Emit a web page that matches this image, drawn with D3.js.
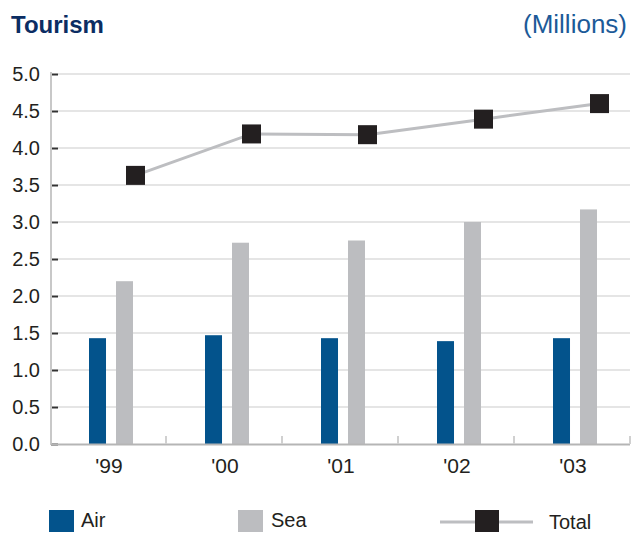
<!DOCTYPE html>
<html>
<head>
<meta charset="utf-8">
<script src="https://cdn.jsdelivr.net/npm/d3@7"></script>
<style>
  html, body { margin: 0; padding: 0; background: #fff; }
  svg { display: block; font-family: "Liberation Sans", Arial, Helvetica, sans-serif; }
</style>
</head>
<body>
<svg id="chart" width="631" height="533"></svg>
<script>
// Tourism arrivals by year, in millions
const years = ["'99", "'00", "'01", "'02", "'03"];
const air   = [1.43, 1.47, 1.43, 1.39, 1.43];
const sea   = [2.20, 2.72, 2.75, 3.00, 3.17];
const total = [3.63, 4.19, 4.18, 4.39, 4.60];
const yTicks = [0, 0.5, 1, 1.5, 2, 2.5, 3, 3.5, 4, 4.5, 5];
const seriesNames = ["Air", "Sea"];
const legendLabels = ["Air", "Sea", "Total"];

const colors = { Air: "#03538c", Sea: "#bcbdc0", line: "#bdbec1", marker: "#231f20" };

const svg = d3.select("#chart");

const x = d3.scaleBand().domain(years).range([50, 630]).paddingInner(0).paddingOuter(0);
const xSub = d3.scaleBand().domain(seriesNames).range([39, 83]).paddingInner(0.37).paddingOuter(0);
const y = d3.scaleLinear().domain([0, 5]).range([444, 74]);
const markerOffset = 85.5;

// Title and unit
svg.append("text").attr("x", 11).attr("y", 33)
  .attr("font-size", 24).attr("font-weight", "bold").attr("fill", "#0b2d63")
  .text("Tourism");
svg.append("text").attr("x", 627).attr("y", 33).attr("text-anchor", "end")
  .attr("font-size", 26).attr("fill", "#1c5a98")
  .text("(Millions)");

// Horizontal gridlines
svg.append("g").selectAll("line").data(yTicks.filter(d => d > 0)).join("line")
  .attr("x1", 58).attr("x2", 630)
  .attr("y1", d => y(d)).attr("y2", d => y(d))
  .attr("stroke", "#dcdcdc").attr("stroke-width", 1.5);

// Y axis
const yAxis = svg.append("g").attr("transform", "translate(58,0)")
  .call(d3.axisLeft(y).tickValues(yTicks).tickFormat(d3.format(".1f")).tickSize(7).tickPadding(11));
yAxis.select(".domain").remove();
yAxis.selectAll(".tick line").attr("stroke", "#333").attr("stroke-width", 2);
yAxis.selectAll(".tick text").attr("font-size", 20).attr("fill", "#231f20")
  .attr("font-family", "'Liberation Sans', Arial, sans-serif");
svg.append("line").attr("x1", 51).attr("x2", 51).attr("y1", 72).attr("y2", 445)
  .attr("stroke", "#c8c8c8").attr("stroke-width", 2);

// Bars
const groups = svg.append("g").selectAll("g").data(years).join("g")
  .attr("transform", d => `translate(${x(d)},0)`);
groups.append("rect")
  .attr("x", xSub("Air")).attr("width", xSub.bandwidth())
  .attr("y", (d, i) => y(air[i])).attr("height", (d, i) => y(0) - y(air[i]))
  .attr("fill", colors.Air);
groups.append("rect")
  .attr("x", xSub("Sea")).attr("width", xSub.bandwidth())
  .attr("y", (d, i) => y(sea[i])).attr("height", (d, i) => y(0) - y(sea[i]))
  .attr("fill", colors.Sea);

// X axis baseline with boundary ticks
svg.append("line").attr("x1", 51).attr("x2", 630).attr("y1", 444.5).attr("y2", 444.5)
  .attr("stroke", "#b5b5b5").attr("stroke-width", 2);
svg.append("g").selectAll("line").data(years).join("line")
  .attr("x1", d => x(d) + x.bandwidth()).attr("x2", d => x(d) + x.bandwidth())
  .attr("y1", 436).attr("y2", 444)
  .attr("stroke", "#d0d0d0").attr("stroke-width", 2);
svg.append("g").selectAll("text").data(years).join("text")
  .attr("x", d => x(d) + x.bandwidth() / 2 + 1).attr("y", 473)
  .attr("text-anchor", "middle").attr("font-size", 21).attr("fill", "#231f20")
  .text(d => d);

// Total line with square markers
const line = d3.line().x((d, i) => x(years[i]) + markerOffset).y(d => y(d));
svg.append("path").datum(total).attr("d", line)
  .attr("fill", "none").attr("stroke", colors.line).attr("stroke-width", 3);
const ms = 19;
svg.append("g").selectAll("rect").data(total).join("rect")
  .attr("x", (d, i) => x(years[i]) + markerOffset - ms / 2)
  .attr("y", d => y(d) - ms / 2)
  .attr("width", ms).attr("height", ms)
  .attr("fill", colors.marker);

// Legend
const leg = svg.append("g");
leg.append("rect").attr("x", 49).attr("y", 510).attr("width", 25).attr("height", 22).attr("fill", colors.Air);
leg.append("text").attr("x", 81).attr("y", 527).attr("font-size", 20).attr("fill", "#231f20").text(legendLabels[0]);
leg.append("rect").attr("x", 238).attr("y", 510).attr("width", 25).attr("height", 22).attr("fill", colors.Sea);
leg.append("text").attr("x", 271).attr("y", 527).attr("font-size", 20).attr("fill", "#231f20").text(legendLabels[1]);
leg.append("line").attr("x1", 440).attr("x2", 533).attr("y1", 522).attr("y2", 522)
  .attr("stroke", colors.line).attr("stroke-width", 3);
leg.append("rect").attr("x", 475).attr("y", 510).attr("width", 24).attr("height", 22).attr("fill", colors.marker);
leg.append("text").attr("x", 549).attr("y", 528.5).attr("font-size", 20).attr("fill", "#231f20").text(legendLabels[2]);
</script>
</body>
</html>
